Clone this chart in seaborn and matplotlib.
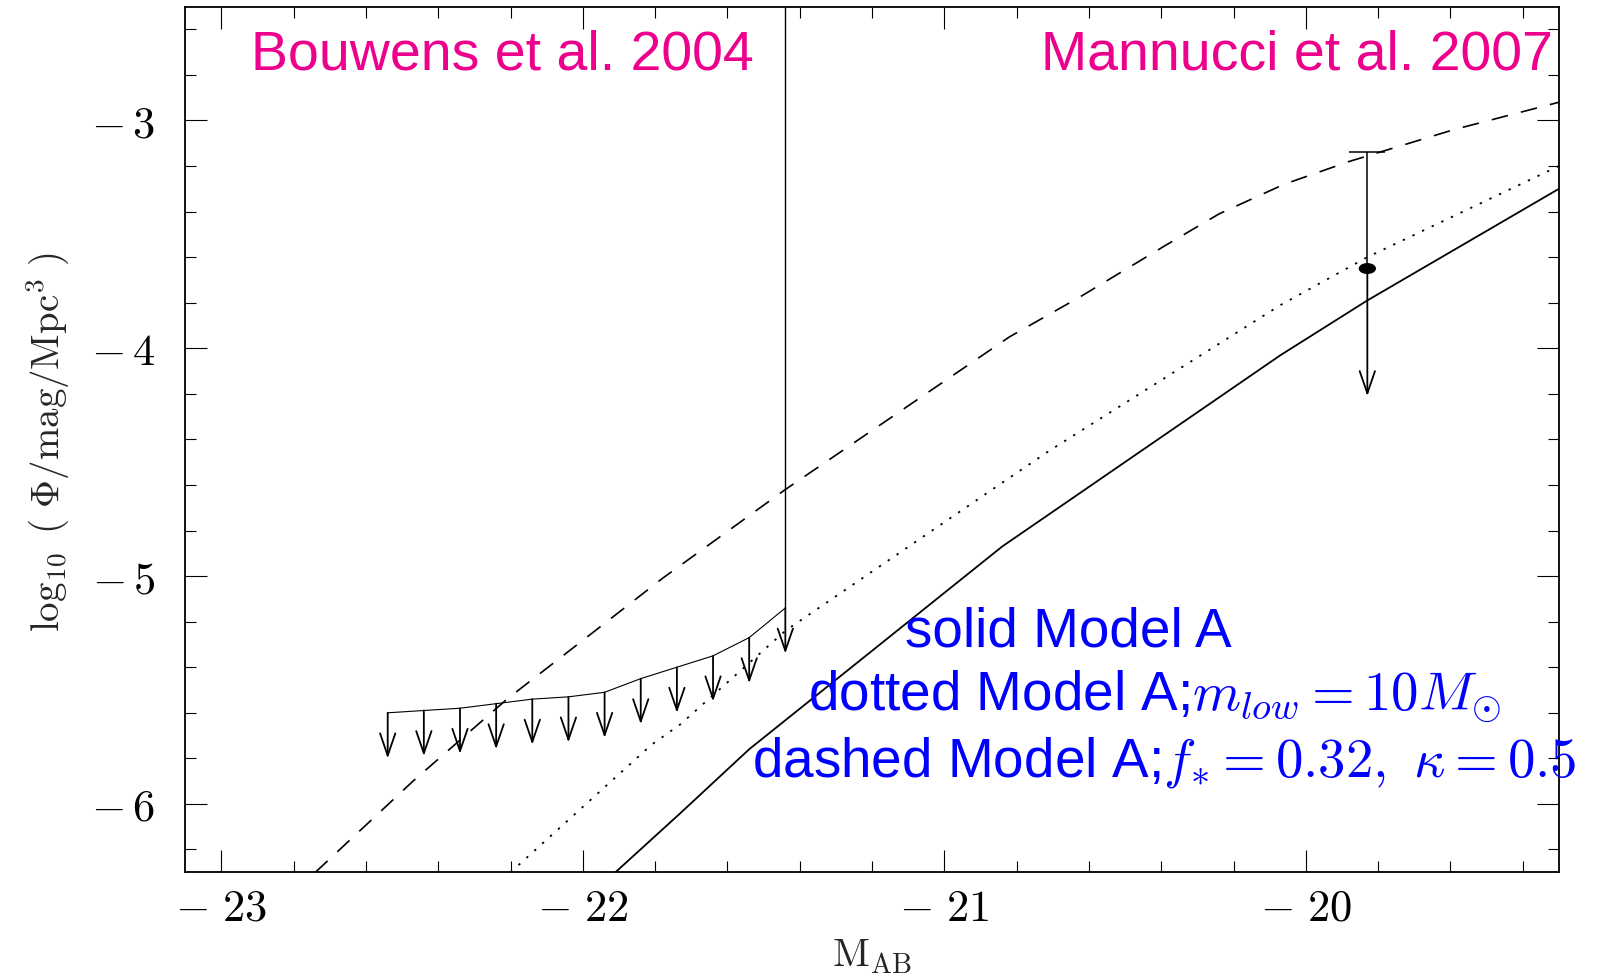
import matplotlib
matplotlib.use("Agg")
import matplotlib.pyplot as plt
import matplotlib.ticker as mticker
from matplotlib.patches import Ellipse
import seaborn as sns

# model curves (M_AB, log10 phi)
solid_x = [-21.91, -21.73, -21.54, -20.84, -20.07, -19.83, -19.30]
solid_y = [-6.30, -6.04, -5.76, -4.87, -4.03, -3.79, -3.30]

dotted_x = [-22.20, -21.81, -21.73, -21.44, -20.84, -20.71, -20.07, -19.83, -19.30]
dotted_y = [-6.30, -5.74, -5.65, -5.24, -4.59, -4.45, -3.81, -3.60, -3.20]

dashed_x = [-22.74, -22.47, -22.21, -21.95, -21.78, -21.44, -20.82, -20.62,
            -20.39, -20.24, -20.06, -19.88, -19.59, -19.30]
dashed_y = [-6.30, -5.90, -5.54, -5.22, -5.01, -4.62, -3.95, -3.77,
            -3.55, -3.41, -3.28, -3.18, -3.04, -2.92]

# Bouwens et al. 2004 upper limits
bouwens_x = [-22.54, -22.44, -22.34, -22.24, -22.14, -22.04, -21.94, -21.84,
             -21.74, -21.64, -21.54, -21.44]
bouwens_y = [-5.60, -5.59, -5.58, -5.56, -5.54, -5.53, -5.51, -5.45,
             -5.40, -5.35, -5.27, -5.14]
bouwens_top = -2.5
limit_len = 0.2

# Mannucci et al. 2007 point
mannucci_x = -19.83
mannucci_y = -3.65
mannucci_hi = -3.14
mannucci_tip = -4.21

labels_models = ["solid Model A",
                 r"dotted Model A;$m_{low}=10M_{\odot}$",
                 r"dashed Model A;$f_{*}=0.32,\ \kappa=0.5$"]

sns.set_style("ticks")
plt.rcParams["font.family"] = ["Liberation Sans", "DejaVu Sans"]
plt.rcParams["mathtext.fontset"] = "cm"

MAGENTA = "#EC008C"
BLUE = "#0000FF"

fig = plt.figure(figsize=(16.04, 9.79), dpi=100)
ax = fig.add_axes([0.1155, 0.1080, 0.9719 - 0.1155, 0.9923 - 0.1080])

sns.lineplot(x=solid_x, y=solid_y, ax=ax, color="black", lw=1.3, estimator=None)
sns.lineplot(x=dotted_x, y=dotted_y, ax=ax, color="black", lw=1.3, estimator=None)
ax.lines[-1].set_dashes((1.3, 4.6))
sns.lineplot(x=dashed_x, y=dashed_y, ax=ax, color="black", lw=1.2, estimator=None)
ax.lines[-1].set_dashes((10, 8))

# Bouwens limits
sns.lineplot(x=bouwens_x, y=bouwens_y, ax=ax, color="black", lw=0.8, estimator=None)
ax.vlines(bouwens_x[-1], bouwens_y[-1], bouwens_top, color="black", lw=1.0)
arrow = dict(arrowstyle="->,head_length=1.6,head_width=0.55", lw=1.3,
             color="black", shrinkA=0, shrinkB=0)
for bx, by in zip(bouwens_x, bouwens_y):
    ax.annotate("", xy=(bx, by - limit_len), xytext=(bx, by), arrowprops=arrow)

# Mannucci point with cap and arrow
ax.vlines(mannucci_x, mannucci_y, mannucci_hi, color="black", lw=1.1)
ax.hlines(mannucci_hi, mannucci_x - 0.05, mannucci_x + 0.05, color="black", lw=1.1)
ax.annotate("", xy=(mannucci_x, mannucci_tip), xytext=(mannucci_x, mannucci_y),
            arrowprops=arrow)
ax.add_patch(Ellipse((mannucci_x, mannucci_y), 0.044, 0.042, color="black", zorder=5))

ax.set_xlim(-23.1, -19.3)
ax.set_ylim(-6.3, -2.5)
ax.xaxis.set_major_locator(mticker.MultipleLocator(1))
ax.xaxis.set_minor_locator(mticker.MultipleLocator(0.2))
ax.yaxis.set_major_locator(mticker.MultipleLocator(1))
ax.yaxis.set_minor_locator(mticker.MultipleLocator(0.2))
ax.xaxis.set_major_formatter(mticker.FuncFormatter(lambda v, p: r"$-\ %d$" % abs(round(v))))
ax.yaxis.set_major_formatter(mticker.FuncFormatter(lambda v, p: r"$-\,%d$" % abs(round(v))))
ax.tick_params(which="both", direction="in", top=True, right=True, width=0.8, colors="black")
ax.tick_params(which="major", length=15.5)
ax.tick_params(which="minor", length=7.7)
ax.tick_params(axis="x", which="major", labelsize=32, pad=11)
ax.tick_params(axis="y", which="major", labelsize=32, pad=22)
for s in ax.spines.values():
    s.set_linewidth(1.3)
    s.set_color("black")

fig.text(0.0293, 0.548, r"$\log_{10}\ (\ \Phi/\mathrm{mag}/\mathrm{Mpc}^{3}\ )$",
         rotation=90, ha="center", va="center", fontsize=28)
fig.text(0.5436, 0.0225, r"$\mathrm{M_{AB}}$", ha="center", va="center", fontsize=29)

ax.text(0.0476, 0.9284, "Bouwens et al. 2004", transform=ax.transAxes,
        color=MAGENTA, fontsize=40, ha="left", va="baseline")
ax.text(0.9957, 0.9284, "Mannucci et al. 2007", transform=ax.transAxes,
        color=MAGENTA, fontsize=40, ha="right", va="baseline")

ax.text(0.524, 0.2617, labels_models[0], transform=ax.transAxes,
        color=BLUE, fontsize=39.5, ha="left", va="baseline")
ax.text(0.4533, 0.1874, labels_models[1], transform=ax.transAxes,
        color=BLUE, fontsize=39.5, ha="left", va="baseline")
ax.text(0.4126, 0.1114, labels_models[2], transform=ax.transAxes,
        color=BLUE, fontsize=39.5, ha="left", va="baseline")

fig.savefig("out.png", dpi=100)
plt.close(fig)
